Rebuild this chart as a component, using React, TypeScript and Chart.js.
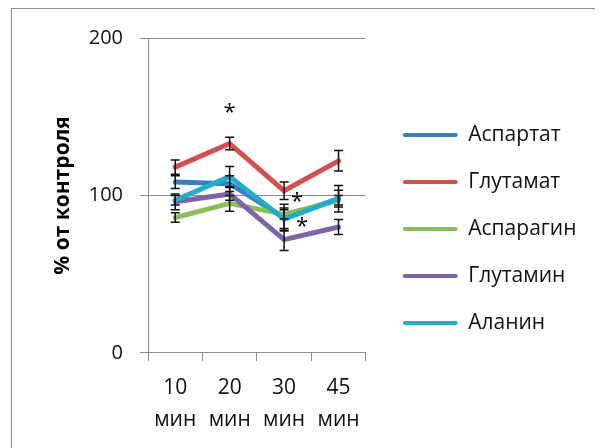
import React, { useEffect, useRef } from "react";
import { Chart, registerables } from "chart.js";

Chart.register(...registerables);

// ---- data ----
const MINUTES = ["10", "20", "30", "45"];
const UNIT = "мин";
const SERIES_NAMES = ["Аспартат", "Глутамат", "Аспарагин", "Глутамин", "Аланин"];
const SERIES_COLORS = ["#3a7fc1", "#d4504f", "#8bbd58", "#7e63a6", "#20aec6"];

const ASPARTATE = [108.5, 107.5, 86, 98];
const GLUTAMATE = [118, 133, 103, 122];
const ASPARAGINE = [86, 95, 88, 97];
const GLUTAMINE = [96, 101, 72, 80];
const ALANINE = [97, 112, 85, 98];

const ASPARTATE_ERR = [4, 5, 8.5, 8.4];
const GLUTAMATE_ERR = [4.5, 4, 5.5, 6.5];
const ASPARAGINE_ERR = [3, 5, 3, 3];
const GLUTAMINE_ERR = [5, 4, 7, 4.7];
const ALANINE_ERR = [3, 6.4, 7, 5.3];

const STAR_X = [1, 2.24, 2.33];
const STAR_Y = [156, 100, 84];

const Y_MIN = 0;
const Y_MAX = 200;
const Y_STEP = 100;
const Y_TITLE = "% от контроля";

const SERIES_VALUES = [ASPARTATE, GLUTAMATE, ASPARAGINE, GLUTAMINE, ALANINE];
const SERIES_ERRORS = [ASPARTATE_ERR, GLUTAMATE_ERR, ASPARAGINE_ERR, GLUTAMINE_ERR, ALANINE_ERR];

const FONT = "'Open Sans', 'Noto Sans', 'DejaVu Sans', sans-serif";
const AXIS_GRAY = "#8c8c8c";

const errorBarPlugin = {
  id: "errorBars",
  afterDatasetsDraw(chart: any) {
    const { ctx } = chart;
    const x = chart.scales.x;
    const y = chart.scales.y;
    ctx.save();
    ctx.strokeStyle = "#111";
    ctx.lineWidth = 1.5;
    chart.data.datasets.forEach((ds: any, di: number) => {
      const errs = SERIES_ERRORS[di];
      ds.data.forEach((v: number, i: number) => {
        const px = x.getPixelForValue(i);
        const top = y.getPixelForValue(v + errs[i]);
        const bot = y.getPixelForValue(v - errs[i]);
        ctx.beginPath();
        ctx.moveTo(px, top);
        ctx.lineTo(px, bot);
        ctx.moveTo(px - 4.5, top);
        ctx.lineTo(px + 4.5, top);
        ctx.moveTo(px - 4.5, bot);
        ctx.lineTo(px + 4.5, bot);
        ctx.stroke();
      });
    });
    ctx.restore();
  },
};

const starPlugin = {
  id: "stars",
  afterDatasetsDraw(chart: any) {
    const { ctx } = chart;
    const x = chart.scales.x;
    const y = chart.scales.y;
    const size = 22;
    ctx.save();
    ctx.fillStyle = "#000";
    ctx.font = `${size}px ${FONT}`;
    ctx.textAlign = "center";
    ctx.textBaseline = "alphabetic";
    STAR_X.forEach((sx, i) => {
      const px = x.getPixelForValue(sx);
      const py = y.getPixelForValue(STAR_Y[i]);
      ctx.fillText("*", px, py + size * 0.55);
    });
    ctx.restore();
  },
};

export default function App() {
  const ref = useRef<HTMLCanvasElement | null>(null);

  useEffect(() => {
    if (!ref.current) return;
    const chart = new Chart(ref.current, {
      type: "line",
      data: {
        labels: MINUTES.map((m) => [m, UNIT]),
        datasets: SERIES_NAMES.map((name, i) => ({
          label: name,
          data: SERIES_VALUES[i],
          borderColor: SERIES_COLORS[i],
          backgroundColor: SERIES_COLORS[i],
          borderWidth: 5,
          pointRadius: 0,
          pointHoverRadius: 0,
          tension: 0,
          borderJoinStyle: "round" as const,
          borderCapStyle: "round" as const,
          order: SERIES_NAMES.length - i,
        })),
      },
      options: {
        animation: false,
        responsive: false,
        layout: { padding: { left: 36, top: 28, right: 13.5, bottom: 0 } },
        plugins: {
          tooltip: { enabled: false },
          legend: {
            position: "right",
            align: "start",
            maxWidth: 300,
            title: {
              display: true,
              text: " ",
              font: { size: 10 },
              padding: { top: 49.5, bottom: 0 },
            },
            labels: {
              boxWidth: 55,
              boxHeight: 4,
              padding: 26,
              color: "#111",
              font: { family: FONT, size: 21 },
              sort: (a: any, b: any) => a.datasetIndex - b.datasetIndex,
              generateLabels: (chart: any) => {
                const items = Chart.defaults.plugins.legend.labels.generateLabels(chart);
                return items.map((it: any) => ({
                  ...it,
                  lineWidth: 0,
                  fillStyle: SERIES_COLORS[it.datasetIndex],
                  strokeStyle: SERIES_COLORS[it.datasetIndex],
                  borderRadius: 2,
                }));
              },
              useBorderRadius: true,
              borderRadius: 2,
            },
          },
        },
        scales: {
          x: {
            type: "category",
            offset: true,
            grid: {
              display: true,
              drawOnChartArea: false,
              drawTicks: true,
              tickLength: 8,
              offset: true,
              color: AXIS_GRAY,
            },
            border: { display: true, color: AXIS_GRAY, width: 1 },
            ticks: {
              color: "#111",
              padding: 11,
              maxRotation: 0,
              autoSkip: false,
              font: { family: FONT, size: 21, lineHeight: 1.524 },
            },
          },
          y: {
            type: "linear",
            min: Y_MIN,
            max: Y_MAX,
            afterFit: (s: any) => {
              s.width = 100;
            },
            ticks: {
              stepSize: Y_STEP,
              color: "#111",
              padding: 17,
              font: { family: FONT, size: 20 },
            },
            grid: {
              display: true,
              drawOnChartArea: true,
              drawTicks: true,
              tickLength: 8,
              color: AXIS_GRAY,
            },
            border: { display: true, color: AXIS_GRAY, width: 1 },
            title: {
              display: true,
              text: Y_TITLE,
              color: "#000",
              font: { family: FONT, size: 21, weight: "bold" },
              padding: { top: 2, bottom: 16 },
            },
          },
          spacer: {
            type: "linear",
            position: "right",
            display: true,
            grid: { display: false },
            border: { display: false },
            ticks: { display: false },
            afterFit: (s: any) => {
              s.width = 11;
            },
          },
        },
      },
      plugins: [errorBarPlugin, starPlugin],
    } as any);
    return () => chart.destroy();
  }, []);

  return (
    <div
      style={{
        marginLeft: 3,
        width: 588,
        height: 445,
        border: `1px solid ${AXIS_GRAY}`,
        background: "#fff",
      }}
    >
      <canvas ref={ref} width={588} height={438} />
    </div>
  );
}
